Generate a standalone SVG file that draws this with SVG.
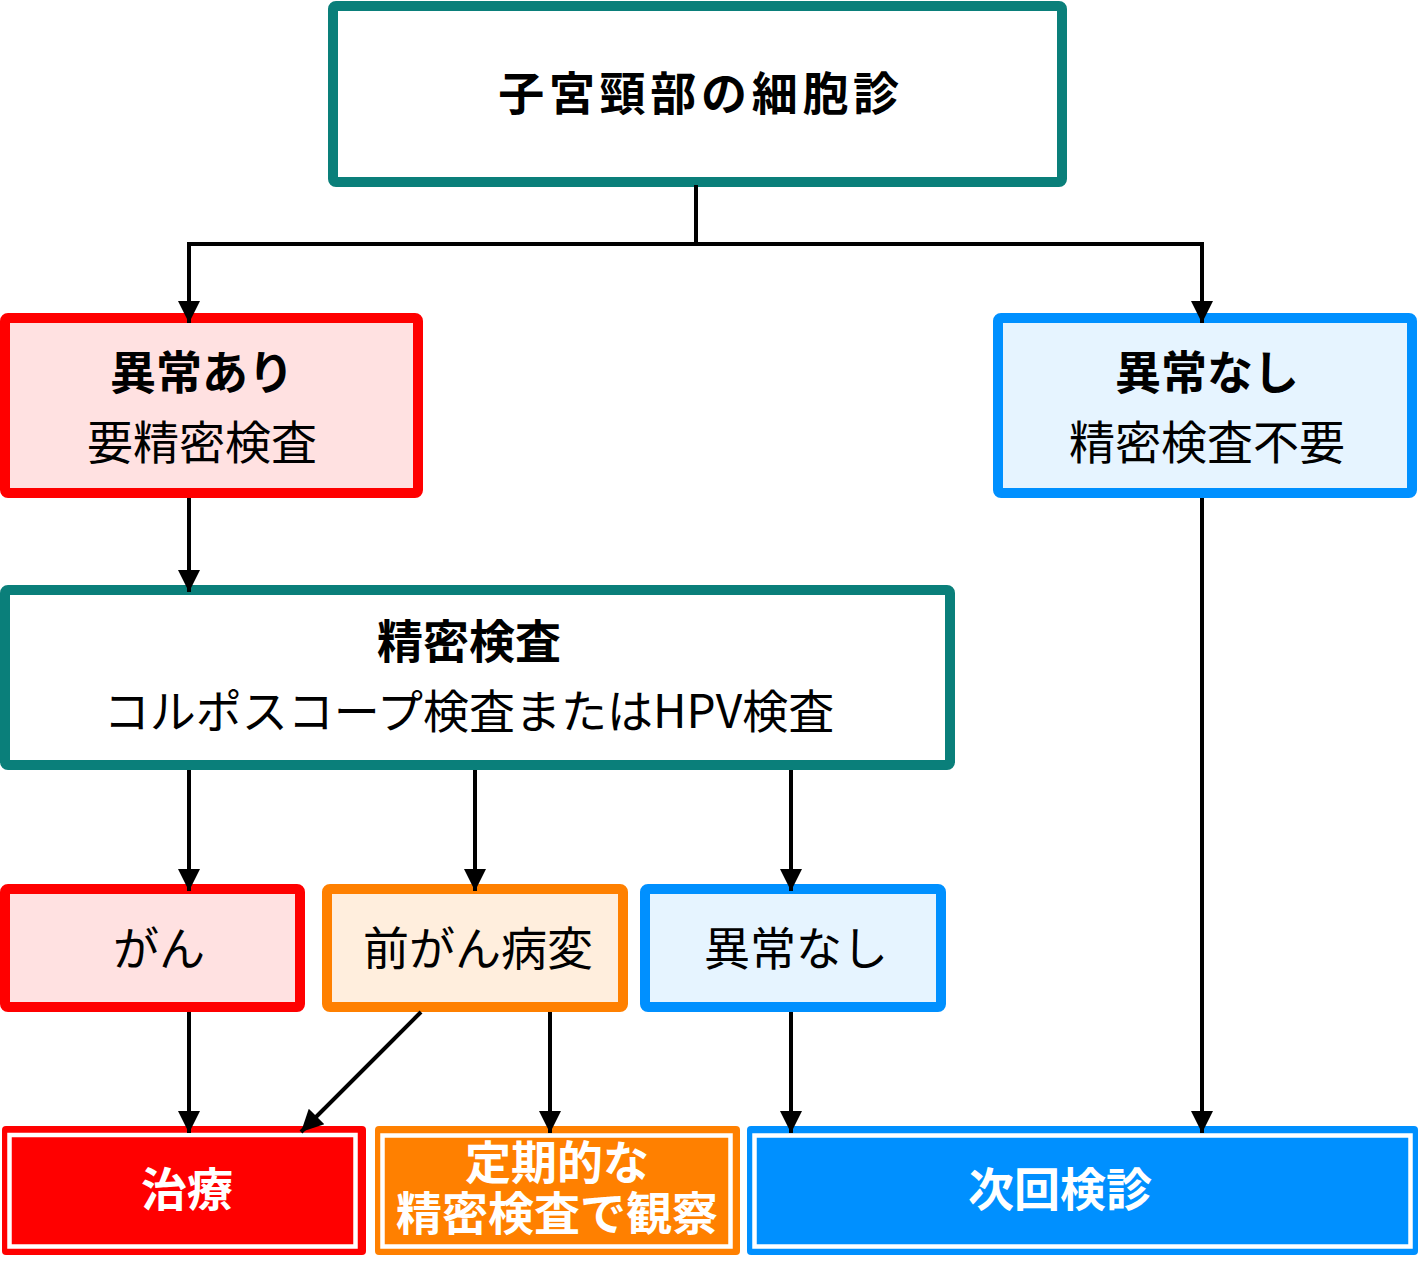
<svg xmlns="http://www.w3.org/2000/svg" width="1419" height="1283" viewBox="0 0 1419 1283">
<style>
text{font-family:"Noto Sans CJK JP","Noto Sans CJK SC",sans-serif;text-anchor:middle;font-size:46px;fill:#000}
.b{font-weight:bold}
.w{fill:#fff;font-weight:bold}
.teal{fill:#fff;stroke:#0A7F7A;stroke-width:10}
.red{fill:#FFE1E1;stroke:#FF0000;stroke-width:10}
.org{fill:#FFEEDD;stroke:#FF8000;stroke-width:10}
.blu{fill:#E6F4FF;stroke:#0090FF;stroke-width:10}
.inner{fill:none;stroke:#fff;stroke-width:4.5}
.c{stroke:#000;stroke-width:4;fill:none}
</style>
<defs>
<marker id="ah" viewBox="0 0 20 20" refX="20" refY="10" markerWidth="24" markerHeight="22" markerUnits="userSpaceOnUse" orient="auto">
<path d="M0,0 L20,10 L0,20 z" fill="#000"/>
</marker>
</defs>
<g id="n-top">
<rect class="teal" x="333" y="6" width="729" height="176" rx="3"/>
<text class="b" x="701" y="110" font-size="44" letter-spacing="4.7">子宮頸部の細胞診</text>
</g>
<g id="n-abn">
<rect class="red" x="5" y="318" width="413" height="175" rx="3"/>
<text class="b" x="202" y="389">異常あり</text>
<text x="202" y="459">要精密検査</text>
</g>
<g id="n-norm">
<rect class="blu" x="998" y="318" width="414" height="175" rx="3"/>
<text class="b" x="1207" y="389">異常なし</text>
<text x="1207" y="459">精密検査不要</text>
</g>
<g id="n-detail">
<rect class="teal" x="5" y="590" width="945" height="175" rx="3"/>
<text class="b" x="469" y="658">精密検査</text>
<text x="469" y="728">コルポスコープ検査またはHPV検査</text>
</g>
<g id="n-cancer">
<rect class="red" x="5" y="889" width="295" height="118" rx="3"/>
<text x="159" y="965">がん</text>
</g>
<g id="n-pre">
<rect class="org" x="327" y="889" width="296" height="118" rx="3"/>
<text x="478" y="965">前がん病変</text>
</g>
<g id="n-none">
<rect class="blu" x="645" y="889" width="296" height="118" rx="3"/>
<text x="796" y="965">異常なし</text>
</g>
<g id="n-treat">
<rect x="2" y="1126" width="364" height="129" rx="4" fill="#FF0000"/>
<rect class="inner" x="9.5" y="1135" width="346" height="111.5"/>
<text class="w" x="187" y="1206">治療</text>
</g>
<g id="n-watch">
<rect x="375" y="1126" width="365" height="129" rx="4" fill="#FF8000"/>
<rect class="inner" x="382.5" y="1135.5" width="348" height="111"/>
<text class="w"><tspan x="557" y="1179">定期的な</tspan><tspan x="557" y="1230">精密検査で観察</tspan></text>
</g>
<g id="n-next">
<rect x="747" y="1126" width="671" height="129" rx="4" fill="#0090FF"/>
<rect class="inner" x="754.5" y="1135.5" width="656" height="111"/>
<text class="w" x="1060" y="1206">次回検診</text>
</g>
<g id="connectors">
<polyline class="c" points="696,185 696,244 189,244 189,323" marker-end="url(#ah)"/>
<polyline class="c" points="696,244 1202,244 1202,323" marker-end="url(#ah)"/>
<line class="c" x1="189" y1="498" x2="189" y2="592" marker-end="url(#ah)"/>
<line class="c" x1="1202" y1="498" x2="1202" y2="1133" marker-end="url(#ah)"/>
<line class="c" x1="189" y1="770" x2="189" y2="891" marker-end="url(#ah)"/>
<line class="c" x1="475" y1="770" x2="475" y2="891" marker-end="url(#ah)"/>
<line class="c" x1="791" y1="770" x2="791" y2="891" marker-end="url(#ah)"/>
<line class="c" x1="189" y1="1012" x2="189" y2="1133" marker-end="url(#ah)"/>
<line class="c" x1="421" y1="1012" x2="301" y2="1132" marker-end="url(#ah)"/>
<line class="c" x1="550" y1="1012" x2="550" y2="1133" marker-end="url(#ah)"/>
<line class="c" x1="791" y1="1012" x2="791" y2="1133" marker-end="url(#ah)"/>
</g>
</svg>
